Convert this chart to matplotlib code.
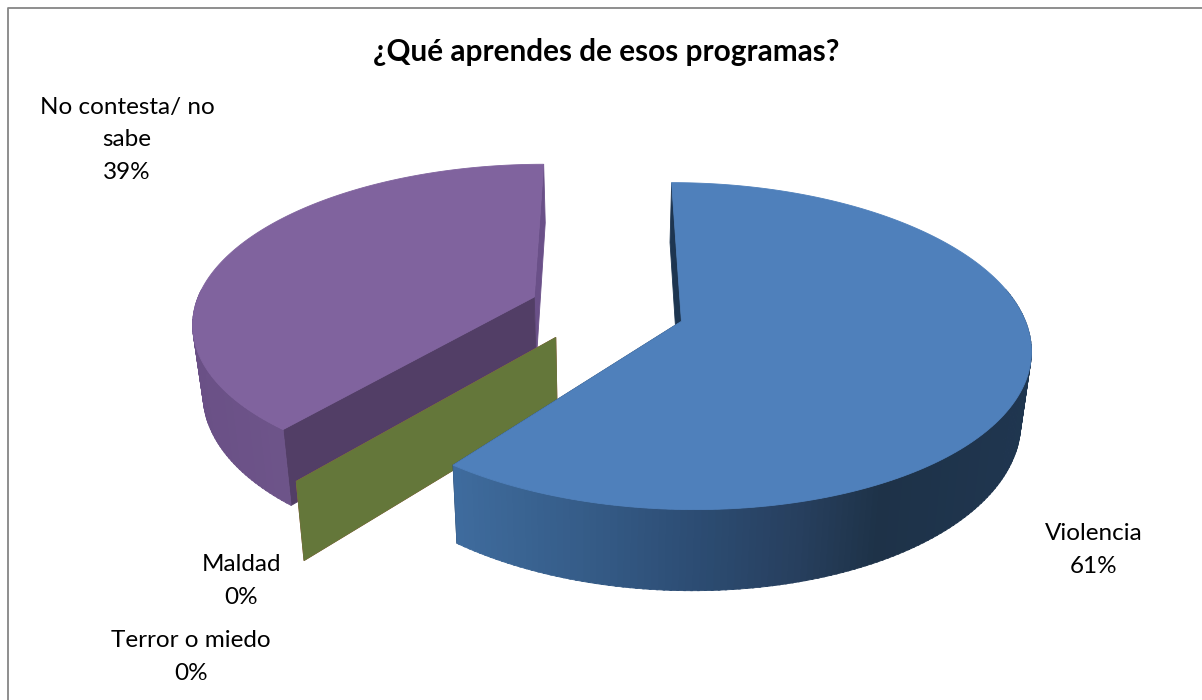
import numpy as np
import matplotlib
matplotlib.use("Agg")
import matplotlib.pyplot as plt
from matplotlib.patches import Polygon

plt.rcParams['font.family'] = ['Lato', 'DejaVu Sans']

title = "¿Qué aprendes de esos programas?"
categories = ["Violencia", "Terror o miedo", "Maldad", "No contesta/ no\nsabe"]
values = [61, 0, 0, 39]
label_pos = [(1094, 550), (191, 657), (241, 581), (127, 140)]

top_colors = ["#4f80bb", "#b8504c", "#64773a", "#80639e"]
first_wall = ["#1d3550", "#b8504c", "#64773a", "#523e66"]
last_wall = ["#1d3550", "#b8504c", "#64773a", "#6a5088"]
# side wall shading from left to right, in pixels
side_x = [190, 300, 450, 600, 700, 800, 880, 1040]
side_blue = ["#3f6c9e", "#3f6c9e", "#3f6c9e", "#345a85", "#2c4c72", "#273f5e", "#1e3248", "#1f3650"]
side_purple = ["#6a5086", "#6e558a", "#6e558a", "#6e558a", "#6e558a", "#6e558a", "#6e558a", "#6e558a"]

# pie camera
CX, CY = 607, 309
RX, RY = 340, 156
K = 0.15
DEPTH = 68
SHRINK = 0.025
EXPLODE = 0.23
START = 0
# the original's perspective pulls the front corner of the big slice in a little
TRIM = 2


def project(u, v, z=0):
    w = 1 - K * v
    x = CX + RX * u / w * (1 - SHRINK * z)
    y = CY + RY * v / w + DEPTH * z / w
    return x, y


def rim(off, angles, z=0):
    t = np.radians(angles)
    return project(off[0] + np.sin(t), off[1] - np.cos(t), z)


def side_colour(x, stops):
    rgb = np.array([matplotlib.colors.to_rgb(c) for c in stops])
    return [np.interp(x, side_x, rgb[:, i]) for i in range(3)]


def poly(ax, xs, ys, color, z):
    ax.add_patch(Polygon(np.column_stack([xs, ys]), closed=True, facecolor=color,
                         edgecolor=color, linewidth=0.6, zorder=z))


def wall(ax, off, angle, color, z):
    ox, oy = project(off[0], off[1], 0)
    bx, by = project(off[0], off[1], 1)
    tx, ty = rim(off, [angle], 0)
    ux, uy = rim(off, [angle], 1)
    poly(ax, [ox, tx[0], ux[0], bx], [oy, ty[0], uy[0], by], color, z)


fig = plt.figure(figsize=(12.02, 7.0), dpi=100)
ax = fig.add_axes([0, 0, 1, 1])
ax.set_xlim(0, 1202)
ax.set_ylim(700, 0)
ax.axis('off')

# the frame is cut off on the right and at the bottom
ax.plot([7.5, 7.5, 1202], [700, 8, 8], color='#868686', linewidth=1.3, zorder=1)

# draw order: purple at the back, then the empty slices, blue in front
order = [3, 1, 2, 0]
angle = START
spans = []
for val in values:
    spans.append((angle, angle + val * 3.6))
    angle += val * 3.6

for layer, i in enumerate(order):
    a0, a1 = spans[i]
    mid = np.radians((a0 + a1) / 2)
    off = (EXPLODE * np.sin(mid), -EXPLODE * np.cos(mid))
    z = 10 * (layer + 1)

    if values[i] == 0:
        wall(ax, off, a0, top_colors[i], z)
        continue

    if i == 0:
        a1 -= TRIM

    wall(ax, off, a1, last_wall[i], z)
    wall(ax, off, a0, first_wall[i], z + 1)

    # outer wall, one strip per degree so it can be shaded
    stops = side_blue if i == 0 else side_purple
    for t in np.arange(a0, a1, 1.0):
        sweep = [t, min(t + 1.3, a1)]
        tx, ty = rim(off, sweep, 0)
        bx, by = rim(off, sweep, 1)
        if ty.mean() < CY - 20:
            continue
        poly(ax, [tx[0], tx[1], bx[1], bx[0]], [ty[0], ty[1], by[1], by[0]],
             side_colour(tx.mean(), stops), z + 2)

    # top face
    arc = np.linspace(a0, a1, 200)
    tx, ty = rim(off, arc, 0)
    ox, oy = project(off[0], off[1], 0)
    poly(ax, np.r_[ox, tx], np.r_[oy, ty], top_colors[i], z + 3)

ax.text(606, 52, title, ha='center', va='center', fontsize=21.4, fontweight='bold', color='black', zorder=60)

for name, val, (x, y) in zip(categories, values, label_pos):
    ax.text(x, y, f"{name}\n{val}%", ha='center', va='center', fontsize=17.5,
            linespacing=1.66, color='black', zorder=60)

fig.savefig("out.png", dpi=100)
